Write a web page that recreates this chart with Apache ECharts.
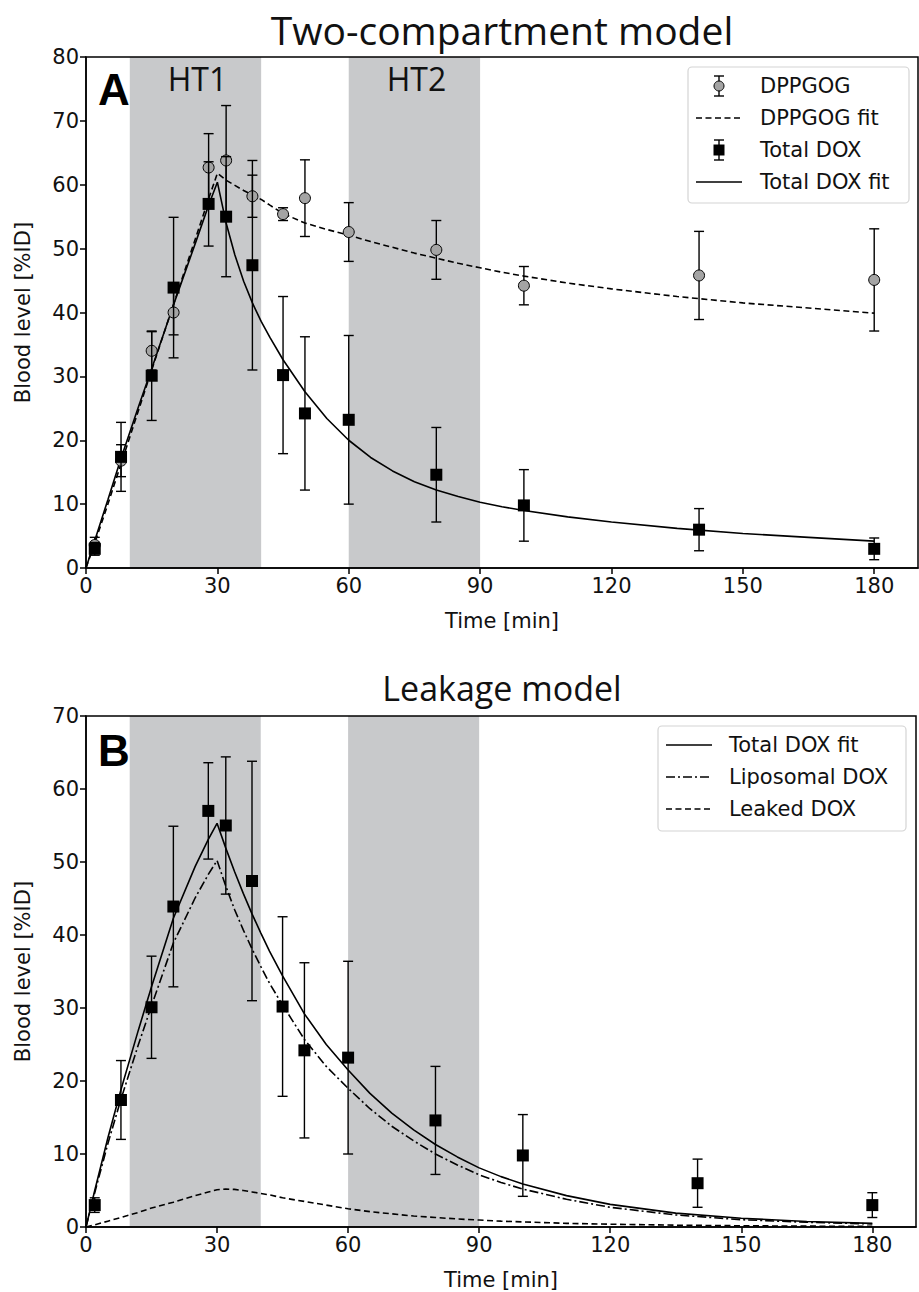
<!DOCTYPE html>
<html><head><meta charset="utf-8">
<script src="https://cdn.jsdelivr.net/npm/echarts@6/dist/echarts.min.js"></script>
<style>html,body{margin:0;padding:0;background:#fff}#c{width:919px;height:1292px}</style>
</head><body><div id="c"></div>
<script>
// ---------- data ----------
const timePoints   = [2, 8, 15, 20, 28, 32, 38, 45, 50, 60, 80, 100, 140, 180];
const dppgogMean   = [3.6, 16.8, 34.0, 40.0, 62.7, 63.8, 58.2, 55.4, 57.9, 52.6, 49.8, 44.2, 45.8, 45.1];
const dppgogErr    = [1.2, 2.5, 3.0, 3.5, 5.3, 8.6, 3.3, 1.0, 6.0, 4.6, 4.6, 3.0, 6.9, 8.0];
const totalDoxMean = [3.0, 17.4, 30.1, 43.9, 57.0, 55.0, 47.4, 30.2, 24.2, 23.2, 14.6, 9.8, 6.0, 3.0];
const totalDoxErr  = [1.0, 5.4, 7.0, 11.0, 6.6, 9.4, 16.4, 12.3, 12.0, 13.2, 7.4, 5.6, 3.3, 1.7];

const fitTime = [0, 2, 5, 8, 12, 15, 20, 25, 28, 30, 32, 34, 36, 38, 40, 42, 45, 50, 55, 60, 65, 70, 75, 80, 85, 90, 95, 100, 110, 120, 135, 150, 165, 180];
// panel A (two-compartment model)
const dppgogFit2c   = [0, 3.9, 10.0, 16.3, 24.7, 31.0, 41.3, 51.6, 57.8, 61.8, 60.7, 59.9, 59.1, 58.4, 57.7, 56.8, 55.5, 54.0, 53.0, 52.1, 51.1, 50.2, 49.3, 48.5, 47.7, 47.0, 46.3, 45.7, 44.6, 43.7, 42.5, 41.5, 40.7, 39.9];
const totalDoxFit2c = [0, 4.3, 10.7, 17.2, 25.3, 31.2, 41.2, 50.9, 56.8, 60.4, 54.0, 49.0, 44.9, 41.5, 38.6, 36.1, 32.6, 27.6, 23.4, 20.0, 17.3, 15.2, 13.5, 12.2, 11.2, 10.3, 9.6, 9.0, 8.0, 7.2, 6.2, 5.4, 4.8, 4.2];
// panel B (leakage model)
const totalDoxFitLk = [0, 5.0, 12.2, 18.8, 27.0, 32.9, 42.3, 49.4, 53.1, 55.3, 51.9, 48.7, 45.7, 42.9, 40.3, 37.8, 34.4, 29.2, 25.0, 21.5, 18.3, 15.6, 13.3, 11.3, 9.6, 8.1, 6.9, 5.9, 4.3, 3.1, 1.9, 1.2, 0.75, 0.5];
const liposomalDox  = [0, 4.7, 11.4, 17.5, 25.0, 30.3, 38.9, 45.1, 48.3, 50.2, 46.7, 43.5, 40.7, 38.1, 35.7, 33.4, 30.4, 25.7, 22.0, 19.0, 16.2, 13.8, 11.8, 10.0, 8.5, 7.15, 6.1, 5.2, 3.8, 2.7, 1.65, 1.0, 0.65, 0.42];
const leakedDox     = [0, 0.3, 0.8, 1.3, 2.0, 2.6, 3.4, 4.3, 4.8, 5.1, 5.2, 5.15, 5.0, 4.8, 4.6, 4.4, 4.0, 3.5, 3.0, 2.5, 2.1, 1.8, 1.5, 1.3, 1.1, 0.95, 0.8, 0.7, 0.5, 0.38, 0.25, 0.17, 0.12, 0.08];

const heatBands   = [[10, 40], [60, 90]];
const bandLabelsA = ['HT1', 'HT2'];
const bandLabelsB = ['', ''];
const xTicks  = [0, 30, 60, 90, 120, 150, 180];
const yTicksA = [0, 10, 20, 30, 40, 50, 60, 70, 80];
const yTicksB = [0, 10, 20, 30, 40, 50, 60, 70];

const titleA = 'Two-compartment model';
const titleB = 'Leakage model';
const xName = 'Time [min]';
const yName = 'Blood level [%ID]';
const legendA = ['DPPGOG', 'DPPGOG fit', 'Total DOX', 'Total DOX fit'];
const legendB = ['Total DOX fit', 'Liposomal DOX', 'Leaked DOX'];

// ---------- styles ----------
const INK = '#111';
const BAND = '#c8c9cb';
const GREY_MARK = '#a4a4a4';
const TICK_FONT = 'DejaVu Sans';
const TITLE_FONT = 'Open Sans';
const DASH = [6, 3.5];
const DASHDOT = [9, 3, 2, 3];

const pair = (xs, ys) => xs.map((x, i) => [x, ys[i]]);
const errData = (m, e) => timePoints.map((t, i) => [t, m[i] - e[i], m[i] + e[i]]);

function bandRender(labels) {
  return function (params, api) {
    const x0 = api.value(0), x1 = api.value(1);
    const cs = params.coordSys;
    const p0 = api.coord([x0, 0]), p1 = api.coord([x1, 0]);
    const children = [{ type: 'rect', shape: { x: p0[0], y: cs.y, width: p1[0] - p0[0], height: cs.height }, style: { fill: BAND } }];
    const lab = labels[params.dataIndex];
    if (lab) children.push({ type: 'text', x: (p0[0] + p1[0]) / 2 + 2, y: cs.y + 21,
      style: { text: lab, fill: INK, font: '32px "' + TITLE_FONT + '"', align: 'center', verticalAlign: 'middle', textAlign: 'center', textVerticalAlign: 'middle' } });
    return { type: 'group', children };
  };
}
function errRender(params, api) {
  const x = api.value(0), lo = api.value(1), hi = api.value(2);
  const a = api.coord([x, hi]), b = api.coord([x, lo]);
  const w = 5, st = { stroke: '#000', lineWidth: 1.4 };
  return { type: 'group', children: [
    { type: 'line', shape: { x1: a[0], y1: a[1], x2: b[0], y2: b[1] }, style: st },
    { type: 'line', shape: { x1: a[0] - w, y1: a[1], x2: a[0] + w, y2: a[1] }, style: st },
    { type: 'line', shape: { x1: b[0] - w, y1: b[1], x2: b[0] + w, y2: b[1] }, style: st } ] };
}
function lineSeries(name, xi, ys, type, z) {
  return { name, type: 'line', xAxisIndex: xi, yAxisIndex: xi, data: pair(fitTime, ys), symbol: 'none', showSymbol: false,
    lineStyle: { color: '#000', width: 1.6, type: type }, z: z || 3, silent: true };
}

function xAxis(gi) {
  return { type: 'value', gridIndex: gi, min: 0, max: 190, interval: 30,
    axisLine: { show: true, lineStyle: { color: '#000', width: 1.5 } },
    axisTick: { show: true, length: 6, lineStyle: { color: '#000', width: 1.5 }, customValues: xTicks },
    axisLabel: { fontSize: 21, fontFamily: TICK_FONT, color: INK, margin: 7, customValues: xTicks,
      formatter: v => xTicks.indexOf(v) >= 0 ? String(v) : '' },
    splitLine: { show: false },
    name: xName, nameLocation: 'middle', nameGap: 42,
    nameTextStyle: { fontSize: 21, fontFamily: TICK_FONT, color: INK }, z: 6 };
}
function yAxis(gi, max, ticks) {
  return { type: 'value', gridIndex: gi, min: 0, max: max, interval: 10,
    axisLine: { show: true, lineStyle: { color: '#000', width: 1.5 } },
    axisTick: { show: true, length: 6, lineStyle: { color: '#000', width: 1.5 }, customValues: ticks },
    axisLabel: { fontSize: 21, fontFamily: TICK_FONT, color: INK, margin: 7, customValues: ticks },
    splitLine: { show: false },
    name: yName, nameLocation: 'middle', nameGap: 53, nameRotate: 90,
    nameTextStyle: { fontSize: 21, fontFamily: TICK_FONT, color: INK }, z: 6 };
}

// ---------- legend (graphic) ----------
function legendGraphic(box, iconX0, iconX1, textX, rowY0, rowGap, items) {
  const els = [{ type: 'rect', shape: { x: box[0], y: box[1], width: box[2], height: box[3], r: 4 },
    style: { fill: '#fff', stroke: '#d4d4d4', lineWidth: 1.2 }, z: 20 }];
  const cx = (iconX0 + iconX1) / 2;
  items.forEach((it, i) => {
    const y = rowY0 + i * rowGap;
    if (it.kind === 'line') {
      els.push({ type: 'line', shape: { x1: iconX0, y1: y, x2: iconX1, y2: y }, style: { stroke: '#000', lineWidth: 1.6, lineDash: it.dash || null }, z: 21 });
    } else {
      const st = { stroke: '#000', lineWidth: 1.4 };
      els.push({ type: 'line', shape: { x1: cx, y1: y - 10, x2: cx, y2: y + 10 }, style: st, z: 21 });
      els.push({ type: 'line', shape: { x1: cx - 5, y1: y - 10, x2: cx + 5, y2: y - 10 }, style: st, z: 21 });
      els.push({ type: 'line', shape: { x1: cx - 5, y1: y + 10, x2: cx + 5, y2: y + 10 }, style: st, z: 21 });
      if (it.kind === 'circle') els.push({ type: 'circle', shape: { cx: cx, cy: y, r: 5 }, style: { fill: GREY_MARK, stroke: '#000', lineWidth: 1 }, z: 22 });
      else els.push({ type: 'rect', shape: { x: cx - 5.5, y: y - 5.5, width: 11, height: 11 }, style: { fill: '#000' }, z: 22 });
    }
    els.push({ type: 'text', x: textX, y: y, z: 22,
      style: { text: it.name, fill: INK, font: '21px "' + TICK_FONT + '"', textVerticalAlign: 'middle', verticalAlign: 'middle' } });
  });
  return els;
}

const graphics = [].concat(
  [{ type: 'text', x: 502, y: 29, style: { text: titleA, fill: INK, font: '39px "' + TITLE_FONT + '"', textAlign: 'center', align: 'center', textVerticalAlign: 'middle', verticalAlign: 'middle' } },
   { type: 'text', x: 502, y: 688, style: { text: titleB, fill: INK, font: '34px "' + TITLE_FONT + '"', textAlign: 'center', align: 'center', textVerticalAlign: 'middle', verticalAlign: 'middle' } },
   { type: 'text', x: 114, y: 89, z: 20, style: { text: 'A', fill: '#000', font: 'bold 44px "Liberation Sans"', textAlign: 'center', align: 'center', textVerticalAlign: 'middle', verticalAlign: 'middle' } },
   { type: 'text', x: 114, y: 750, z: 20, style: { text: 'B', fill: '#000', font: 'bold 44px "Liberation Sans"', textAlign: 'center', align: 'center', textVerticalAlign: 'middle', verticalAlign: 'middle' } }],
  legendGraphic([688, 67, 221, 136], 696, 742, 760, 86, 32, [
    { name: legendA[0], kind: 'circle' }, { name: legendA[1], kind: 'line', dash: DASH },
    { name: legendA[2], kind: 'square' }, { name: legendA[3], kind: 'line' } ]),
  legendGraphic([658, 726, 248, 105], 666, 712, 729, 745, 32, [
    { name: legendB[0], kind: 'line' }, { name: legendB[1], kind: 'line', dash: DASHDOT },
    { name: legendB[2], kind: 'line', dash: DASH } ])
);

const option = {
  animation: false,
  backgroundColor: '#fff',
  grid: [
    { left: 86, top: 57, width: 832, height: 511, show: true, borderColor: '#000', borderWidth: 1.5, z: 10, backgroundColor: 'transparent' },
    { left: 86, top: 716, width: 830, height: 511, show: true, borderColor: '#000', borderWidth: 1.5, z: 10, backgroundColor: 'transparent' }
  ],
  xAxis: [xAxis(0), xAxis(1)],
  yAxis: [yAxis(0, 80, yTicksA), yAxis(1, 70, yTicksB)],
  series: [
    { type: 'custom', xAxisIndex: 0, yAxisIndex: 0, data: heatBands, encode: { x: [0, 1] }, renderItem: bandRender(bandLabelsA), z: 1, silent: true },
    { type: 'custom', xAxisIndex: 1, yAxisIndex: 1, data: heatBands, encode: { x: [0, 1] }, renderItem: bandRender(bandLabelsB), z: 1, silent: true },
    lineSeries(legendA[1], 0, dppgogFit2c, DASH),
    lineSeries(legendA[3], 0, totalDoxFit2c, 'solid'),
    { type: 'custom', xAxisIndex: 0, yAxisIndex: 0, data: errData(dppgogMean, dppgogErr), encode: { x: 0, y: [1, 2] }, renderItem: errRender, z: 4, silent: true },
    { type: 'scatter', name: legendA[0], xAxisIndex: 0, yAxisIndex: 0, data: pair(timePoints, dppgogMean), symbol: 'circle', symbolSize: 11,
      itemStyle: { color: GREY_MARK, borderColor: '#000', borderWidth: 1, opacity: 1 }, z: 5, silent: true },
    { type: 'custom', xAxisIndex: 0, yAxisIndex: 0, data: errData(totalDoxMean, totalDoxErr), encode: { x: 0, y: [1, 2] }, renderItem: errRender, z: 6, silent: true },
    { type: 'scatter', name: legendA[2], xAxisIndex: 0, yAxisIndex: 0, data: pair(timePoints, totalDoxMean), symbol: 'rect', symbolSize: 12,
      itemStyle: { color: '#000', opacity: 1 }, z: 7, silent: true },
    lineSeries(legendB[0], 1, totalDoxFitLk, 'solid'),
    lineSeries(legendB[1], 1, liposomalDox, DASHDOT),
    lineSeries(legendB[2], 1, leakedDox, DASH),
    { type: 'custom', xAxisIndex: 1, yAxisIndex: 1, data: errData(totalDoxMean, totalDoxErr), encode: { x: 0, y: [1, 2] }, renderItem: errRender, z: 6, silent: true },
    { type: 'scatter', name: 'Total DOX', xAxisIndex: 1, yAxisIndex: 1, data: pair(timePoints, totalDoxMean), symbol: 'rect', symbolSize: 12,
      itemStyle: { color: '#000', opacity: 1 }, z: 7, silent: true }
  ],
  graphic: graphics
};
const chart = echarts.init(document.getElementById('c'), null, { renderer: 'svg' });
chart.setOption(option);
</script></body></html>
